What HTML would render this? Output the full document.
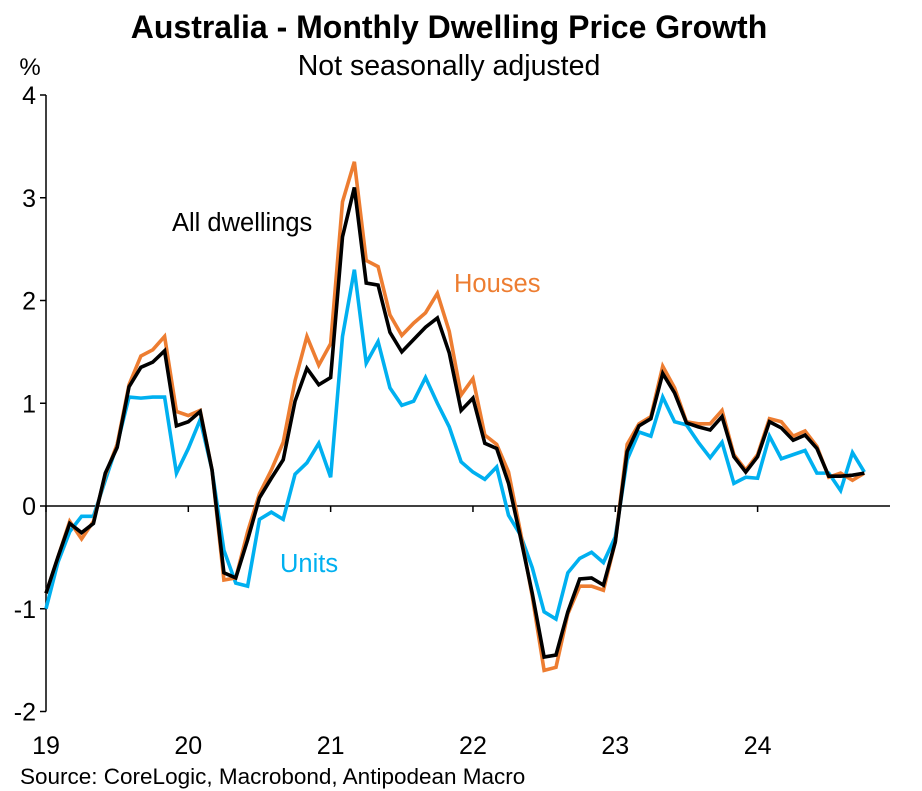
<!DOCTYPE html>
<html><head><meta charset="utf-8"><style>
body{margin:0;background:#fff;}
svg{display:block;font-family:"Liberation Sans",Arial,sans-serif;}
</style></head><body>
<svg id="chart" width="922" height="791">
<text x="449" y="38" text-anchor="middle" font-size="32" font-weight="bold">Australia - Monthly Dwelling Price Growth</text>
<text x="449" y="75" text-anchor="middle" font-size="28.5">Not seasonally adjusted</text>
<text x="30" y="75" text-anchor="middle" font-size="24">%</text>
<text x="20" y="784" font-size="22.5">Source: CoreLogic, Macrobond, Antipodean Macro</text>
<g id="axes"></g>
<g id="series"></g>
<text x="172" y="231" font-size="25.5" fill="#000">All dwellings</text>
<text x="454" y="292" font-size="25.5" fill="#ED7D31">Houses</text>
<text x="280" y="572" font-size="25.5" fill="#00B0F0">Units</text>
</svg>
<script>
const yearLabels = ["19","20","21","22","23","24"];
const yTicks = [-2,-1,0,1,2,3,4];
const allDwellings = [-0.85,-0.5,-0.17,-0.26,-0.17,0.32,0.57,1.16,1.35,1.4,1.51,0.78,
 0.82,0.92,0.35,-0.65,-0.7,-0.33,0.08,0.27,0.45,1.02,1.34,1.18,
 1.25,2.62,3.1,2.17,2.15,1.69,1.5,1.62,1.74,1.83,1.49,0.93,
 1.05,0.61,0.56,0.22,-0.3,-0.85,-1.47,-1.45,-1.03,-0.71,-0.7,-0.77,
 -0.35,0.53,0.78,0.85,1.29,1.1,0.81,0.77,0.74,0.87,0.48,0.33,
 0.48,0.82,0.76,0.64,0.69,0.56,0.29,0.29,0.3,0.32];
const houses = [-0.85,-0.5,-0.15,-0.32,-0.15,0.3,0.6,1.18,1.46,1.52,1.65,0.92,
 0.88,0.93,0.35,-0.72,-0.7,-0.25,0.12,0.35,0.62,1.22,1.65,1.37,
 1.58,2.96,3.35,2.39,2.33,1.86,1.66,1.78,1.88,2.07,1.7,1.08,
 1.24,0.69,0.6,0.33,-0.25,-0.88,-1.6,-1.57,-1.05,-0.78,-0.78,-0.82,
 -0.35,0.6,0.8,0.87,1.36,1.15,0.82,0.8,0.8,0.93,0.5,0.35,
 0.5,0.85,0.82,0.68,0.73,0.58,0.28,0.32,0.25,0.32];
const units = [-1.0,-0.55,-0.25,-0.1,-0.1,0.25,0.6,1.06,1.05,1.06,1.06,0.32,
 0.56,0.84,0.35,-0.43,-0.75,-0.78,-0.13,-0.06,-0.13,0.31,0.42,0.61,
 0.28,1.65,2.3,1.39,1.6,1.15,0.98,1.02,1.25,1.0,0.77,0.43,
 0.33,0.26,0.38,-0.09,-0.28,-0.6,-1.03,-1.1,-0.65,-0.51,-0.45,-0.55,
 -0.3,0.45,0.72,0.68,1.06,0.82,0.79,0.62,0.47,0.62,0.22,0.28,
 0.27,0.68,0.46,0.5,0.54,0.32,0.32,0.15,0.52,0.33];
const x0=46, monthW=11.86, y0=506, unitH=102.75;
const X = i => x0 + i*monthW;
const Y = v => y0 - v*unitH;
const NS="http://www.w3.org/2000/svg";
const axes=document.getElementById('axes');
function mk(tag,attrs,parent){const e=document.createElementNS(NS,tag);for(const k in attrs)e.setAttribute(k,attrs[k]);parent.appendChild(e);return e;}
let l=mk('line',{x1:x0,y1:Y(4),x2:x0,y2:Y(-2),stroke:'#000','stroke-width':1.5},axes);


yTicks.forEach(v=>{
 const t=mk('line',{x1:x0-6,y1:Y(v),x2:x0,y2:Y(v),stroke:'#000','stroke-width':1.5},axes);
 
 
 const tx=mk('text',{x:x0-10,y:Y(v)+9,'text-anchor':'end','font-size':25},axes);
 tx.textContent=v;
 
 
});
l=mk('line',{x1:x0,y1:Y(0),x2:890,y2:Y(0),stroke:'#000','stroke-width':1.5},axes);


yearLabels.forEach((s,k)=>{
 const xx=X(k*12);
 const t=mk('line',{x1:xx,y1:Y(0),x2:xx,y2:Y(0)+6,stroke:'#000','stroke-width':1.5},axes);
 
 
 const tx=mk('text',{x:xx,y:754,'text-anchor':'middle','font-size':25},axes);
 tx.textContent=s;
 
 
});
const sg=document.getElementById('series');
[[units,'#00B0F0','units-line'],[houses,'#ED7D31','houses-line'],[allDwellings,'#000','all-dwellings-line']].forEach(([d,c,n])=>{
 const p=mk('polyline',{points:d.map((v,i)=>X(i)+','+Y(v)).join(' '),fill:'none',stroke:c,'stroke-width':3.6,'stroke-linejoin':'miter'},sg);
 
 
});
</script>
</body></html>
